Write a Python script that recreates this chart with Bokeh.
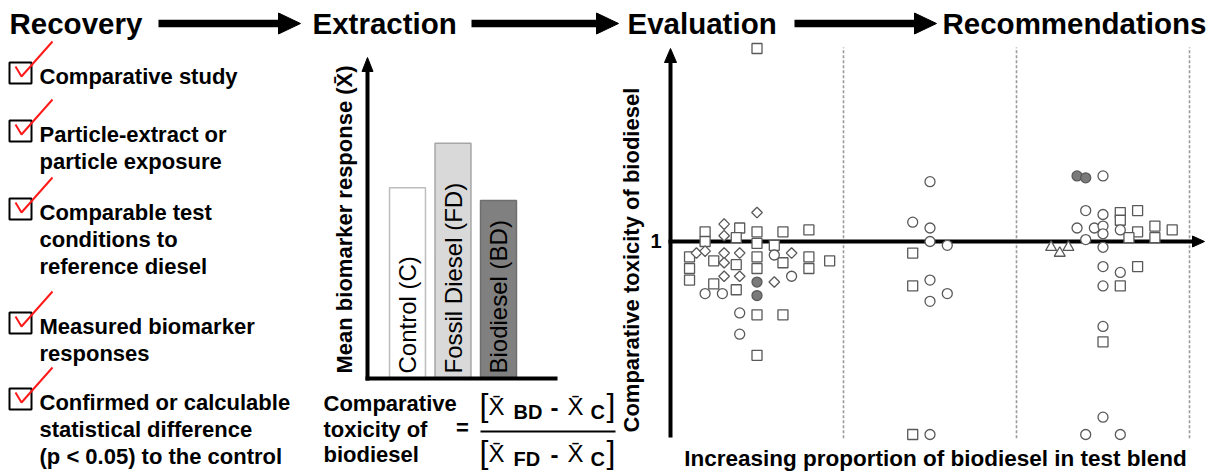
import numpy as np
from bokeh.plotting import figure
from bokeh.models import Range1d
from bokeh.embed import file_html
from bokeh.resources import INLINE
from bokeh.core.properties import value

# ------------------------------------------------------------------ data
headers = ["Recovery", "Extraction", "Evaluation", "Recommendations"]
criteria = [
    ["Comparative study"],
    ["Particle-extract or", "particle exposure"],
    ["Comparable test", "conditions to", "reference diesel"],
    ["Measured biomarker", "responses"],
    ["Confirmed or calculable", "statistical difference", "(p < 0.05) to the control"],
]
bar_labels = ["Control (C)", "Fossil Diesel (FD)", "Biodiesel (BD)"]
bar_values = [60, 74, 56]
bar_fills = ["#ffffff", "#d9d9d9", "#808080"]
bar_lines = ["#bdbdbd", "#a6a6a6", "#6e6e6e"]
bar_ylabel = "Mean biomarker response (X\u0304)"
formula_label = ["Comparative", "toxicity of", "biodiesel"]

eval_ylabel = "Comparative toxicity of biodiesel"
eval_xlabel = "Increasing proportion of biodiesel in test blend"
ref_value = 1
group_bounds = [1, 2, 3]

sq_x = [0.50, 0.20, 0.40, 0.50, 0.65, 0.80, 0.20, 0.38, 0.50, 0.60, 0.11, 0.25, 0.38, 0.50,
        0.65, 0.80, 0.92, 0.11, 0.50, 0.80, 0.11, 0.25, 0.38, 0.50, 0.65, 0.50,
        1.40, 1.40, 1.40,
        2.60, 2.70, 2.60, 2.70, 2.80, 2.90, 2.65, 2.80, 2.70, 2.60, 2.50]
sq_y = [2.00, 1.05, 1.07, 1.05, 1.05, 1.06, 1.00, 1.02, 0.99, 0.98, 0.92, 0.90, 0.88, 0.92,
        0.89, 0.92, 0.90, 0.86, 0.86, 0.86, 0.80, 0.78, 0.75, 0.62, 0.62, 0.41,
        0.94, 0.77, 0.00,
        1.15, 1.16, 1.11, 1.05, 1.08, 1.06, 1.02, 1.02, 0.87, 0.77, 0.48]

circ_x = [0.60, 0.70, 0.20, 0.30, 0.40, 0.40,
          1.50, 1.40, 1.50, 1.50, 1.60, 1.50, 1.60, 1.50, 1.50,
          2.50, 2.40, 2.50, 2.35, 2.45, 2.50, 2.50, 2.60, 2.40, 2.50, 2.50, 2.60,
          2.50, 2.50, 2.50, 2.40, 2.60]
circ_y = [0.93, 0.82, 0.73, 0.73, 0.63, 0.52,
          1.31, 1.10, 1.07, 1.00, 0.98, 0.80, 0.73, 0.69, 0.00,
          1.34, 1.16, 1.14, 1.07, 1.07, 1.08, 1.04, 1.06, 1.01, 0.97, 0.87, 0.84,
          0.77, 0.56, 0.09, 0.00, 0.00]

circf_x = [0.50, 0.50, 2.35, 2.40]
circf_y = [0.79, 0.72, 1.34, 1.33]

dia_x = [0.50, 0.31, 0.31, 0.15, 0.20, 0.31, 0.40, 0.31, 0.70, 0.31, 0.40, 0.60]
dia_y = [1.15, 1.09, 1.03, 0.94, 0.95, 0.94, 0.94, 0.89, 0.94, 0.82, 0.82, 0.79]

tri_x = [2.20, 2.25, 2.30]
tri_y = [0.97, 0.94, 0.97]

# ------------------------------------------------------------------ canvas
FONT = "Liberation Sans"
W, H = 1219, 472
X0, X1 = 0, 1219          # page-pixel frame (x)
YB, YT = 472, 0           # page-pixel frame (y, inverted)
BASE_FIX = 0.36           # renderer places alphabetic baseline this many em too low

p = figure(width=W, height=H, x_range=Range1d(X0, X1), y_range=Range1d(YB, YT),
           x_axis_type=None, y_axis_type=None, output_backend="svg",
           toolbar_location=None, min_border=0)
p.outline_line_color = None
p.background_fill_color = "white"
p.border_fill_color = "white"

# evaluation scale: u -> 670 + 173u ; v -> 434 - 193v
EX0, EXU, EY0, EYU = 670, 173, 434, 193
# extraction bar scale: i -> 407 + 45.5i ; r -> 378 - 3.18r
BX0, BXU, BY0, BYU = 407, 45.5, 378, 3.18
p.extra_x_ranges = {"eval": Range1d((X0 - EX0) / EXU, (X1 - EX0) / EXU),
                    "bars": Range1d((X0 - BX0) / BXU, (X1 - BX0) / BXU)}
p.extra_y_ranges = {"tox": Range1d((EY0 - YB) / EYU, (EY0 - YT) / EYU),
                    "resp": Range1d((BY0 - YB) / BYU, (BY0 - YT) / BYU)}


def txt(x, y, s, size, bold=True, align="left", angle=0.0, color="black"):
    """x, y: page pixel of the text's alphabetic baseline anchor."""
    d = BASE_FIX * size
    if angle:
        x -= d
    else:
        y -= d
    p.text(x=[x], y=[y], text=[s], text_font=value(FONT), text_font_size=f"{size}px",
           text_font_style="bold" if bold else "normal", text_align=align,
           text_baseline="alphabetic", angle=angle, text_color=color)


def arrow_h(x0, x1, y, lw, hl, hw):
    p.line([x0, x1 - hl + 1], [y, y], line_width=lw, line_color="black")
    p.patch([x1 - hl, x1 - hl, x1], [y - hw / 2, y + hw / 2, y], color="black")


def arrow_v(x, y0, y1, lw, hl, hw):
    p.line([x, x], [y0, y1 + hl - 1], line_width=lw, line_color="black")
    p.patch([x - hw / 2, x + hw / 2, x], [y1 + hl, y1 + hl, y1], color="black")


# ------------------------------------------------------------------ headers
hx = [9, 312, 627, 942]
for s, x in zip(headers, hx):
    txt(x, 33.5, s, 29.5)
for a, b in [(158, 300), (471, 618), (794, 936)]:
    arrow_h(a, b, 23, 7.5, 22, 21)

# ------------------------------------------------------------------ checklist
box_tops = [62, 120, 198, 312, 388]
for top, lines in zip(box_tops, criteria):
    p.quad(left=[9], right=[31], top=[top], bottom=[top + 21], fill_color=None,
           line_color="black", line_width=2)
    p.line([15, 21, 52], [top + 4, top + 14, top - 21], line_color="#ff1a1a",
           line_width=2)
    for k, s in enumerate(lines):
        txt(39, top + 21.5 + 27 * k, s, 22)

# ------------------------------------------------------------------ extraction bars
idx = list(range(len(bar_values)))
p.vbar(x=idx, top=bar_values, bottom=0, width=0.79, fill_color=bar_fills,
       line_color=bar_lines, line_width=1.5, x_range_name="bars", y_range_name="resp")
for i, s in enumerate(bar_labels):
    txt(BX0 + BXU * i + 9, BY0 - 5, s, 24, bold=False, angle=np.pi / 2)
arrow_v(367, 380, 57, 4, 14, 11)
p.line([365, 557], [378, 378], line_width=4, line_color="black")
txt(352, 373, bar_ylabel, 22, angle=np.pi / 2)

# formula
for k, s in enumerate(formula_label):
    txt(323, 411 + 25.5 * k, s, 22)
txt(462, 435, "=", 22, align="center")
p.line([480, 615], [431, 431], line_width=2, line_color="black")
for dy, sub in [(0, "BD"), (47, "FD")]:
    txt(479, 416 + dy, "[", 32, bold=False)
    txt(488, 415 + dy, "X\u0304", 24, bold=False)
    txt(513, 419 + dy, sub, 20)
    txt(550, 416 + dy, "-", 24)
    txt(567, 415 + dy, "X\u0304", 24, bold=False)
    txt(590, 419 + dy, "C", 20)
    txt(606, 416 + dy, "]", 32, bold=False)

# ------------------------------------------------------------------ evaluation
p.segment(x0=group_bounds, y0=[-0.02] * 3, x1=group_bounds, y1=[2.005] * 3,
          line_color="#9a9a9a", line_width=1.6, line_dash="3 2",
          x_range_name="eval", y_range_name="tox")
arrow_v(EX0, 437, 48, 4, 14, 12)
ref_px = EY0 - EYU * ref_value
arrow_h(EX0 - 2, 1204, ref_px, 4, 12, 11)
txt(661, ref_px + 7, "1", 20, align="right")

mk = dict(x_range_name="eval", y_range_name="tox", line_color="#595959", line_width=1.3)
p.scatter(sq_x, sq_y, marker="square", size=10, fill_color="white", **mk)
p.scatter(dia_x, dia_y, marker="square", angle=np.pi / 4, size=7.5, fill_color="white", **mk)
p.scatter(circ_x, circ_y, marker="circle", size=10, fill_color="white", **mk)
p.scatter(circf_x, circf_y, marker="circle", size=10, fill_color="#7a7a7a", **mk)
p.scatter(tri_x, tri_y, marker="triangle", size=11, fill_color="white", **mk)

txt(639, 432, eval_ylabel, 22, angle=np.pi / 2)
txt(935, 466, eval_xlabel, 22.5, align="center")

open("out.html", "w").write(file_html(p, INLINE))
